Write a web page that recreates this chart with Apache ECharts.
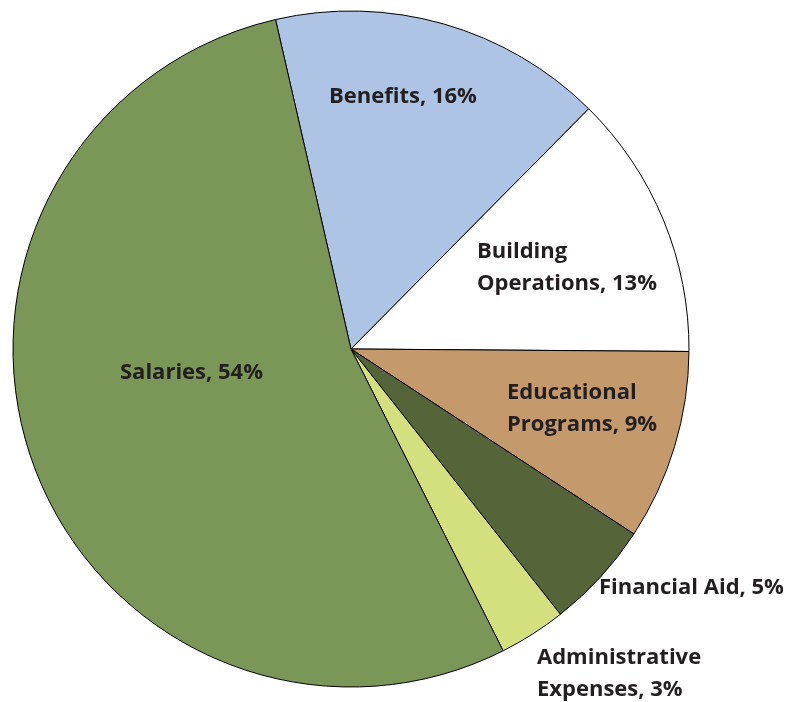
<!DOCTYPE html>
<html>
<head>
<meta charset="utf-8">
<script src="https://cdn.jsdelivr.net/npm/echarts@6/dist/echarts.min.js"></script>
<style>
  html, body { margin: 0; padding: 0; background: #fff; }
  #main { width: 790px; height: 702px; }
</style>
</head>
<body>
<div id="main"></div>
<script>
// budget shares (%), clockwise from top, as measured off the slices
const categories = ['Benefits', 'Building\nOperations', 'Educational\nPrograms', 'Financial Aid', 'Administrative\nExpenses', 'Salaries']
const shares = [16, 12.7, 9.1, 5.15, 3.2, 53.85]
const colors = ['#adc4e4', '#ffffff', '#c4996b', '#566439', '#d4e07e', '#7b9757']

// label anchor points (left edge, vertical middle)
const labelPos = [[329, 97], [477, 268], [507, 409], [599, 588], [537, 674], [120, 373]]

const chart = echarts.init(document.getElementById('main'))
chart.setOption({
  animation: false,
  series: [{
    type: 'pie',
    center: [351, 349],
    radius: 338,
    startAngle: 102.9,
    clockwise: true,
    avoidLabelOverlap: false,
    itemStyle: { borderColor: '#000', borderWidth: 1 },
    label: {
      show: true,
      position: 'inside',
      formatter: (p) => p.name + ', ' + Math.round(p.value) + '%',
      color: '#231f20',
      fontFamily: 'Open Sans',
      fontWeight: 'bold',
      fontSize: 22,
      lineHeight: 32,
      align: 'left'
    },
    labelLine: { show: false },
    labelLayout: (p) => ({
      x: labelPos[p.dataIndex][0],
      y: labelPos[p.dataIndex][1],
      align: 'left',
      verticalAlign: 'middle'
    }),
    emphasis: { disabled: true },
    data: categories.map((name, i) => ({
      name,
      value: shares[i],
      itemStyle: { color: colors[i] }
    }))
  }]
})
</script>
</body>
</html>
